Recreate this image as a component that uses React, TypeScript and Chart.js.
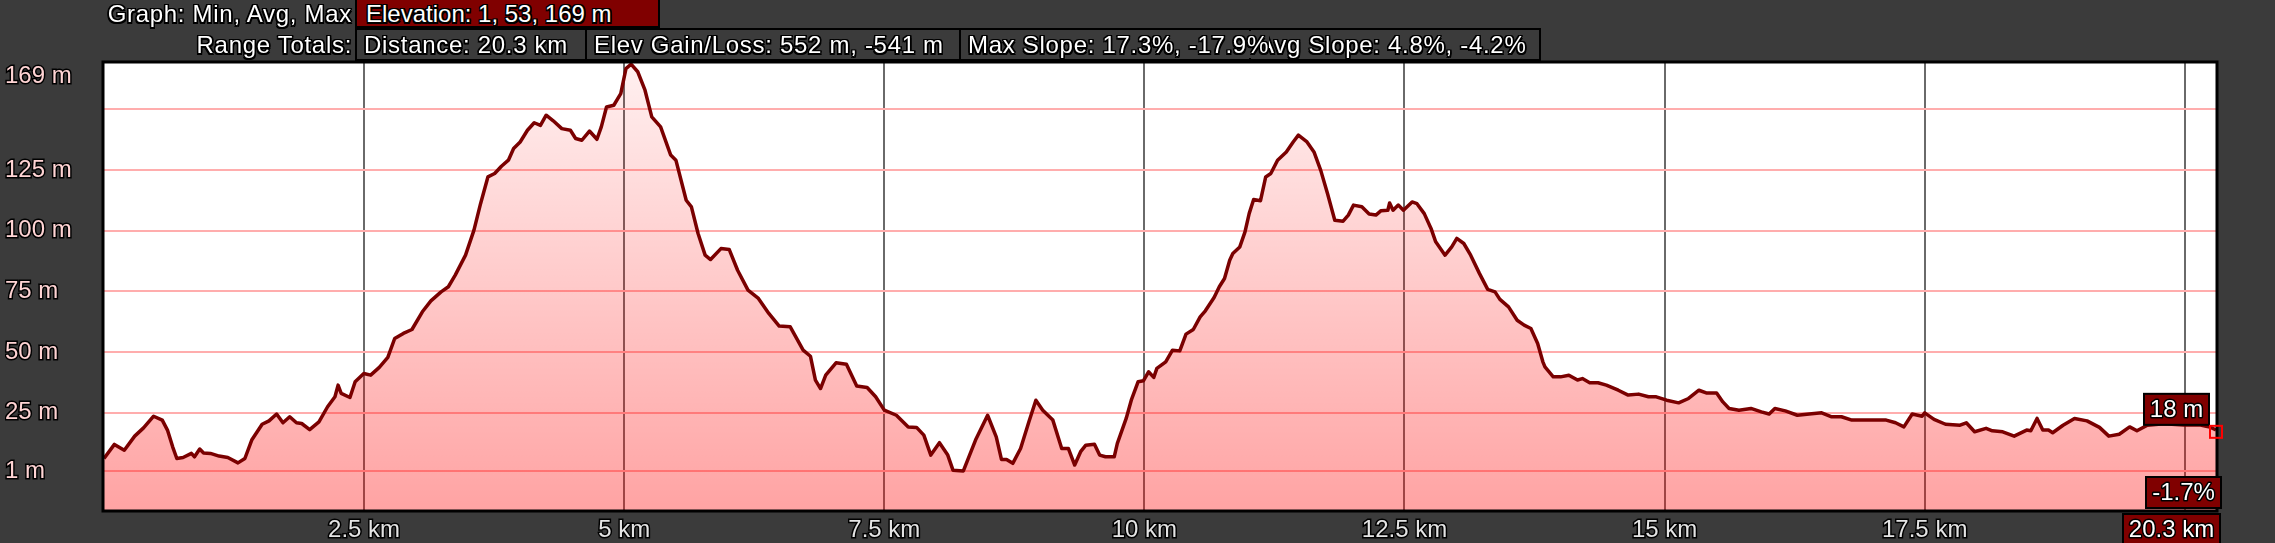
import React, { useEffect, useRef } from 'react';
import Chart from 'chart.js/auto';

// ---- data ----
const distanceKm = [
  0.0, 0.1, 0.195, 0.295, 0.38, 0.477, 0.56, 0.61, 0.66, 0.7, 0.76, 0.84, 0.87, 0.92, 0.957,
  1.023, 1.106, 1.19, 1.288, 1.354, 1.42, 1.52, 1.586, 1.659, 1.72, 1.785, 1.85, 1.9, 1.977,
  2.066, 2.149, 2.22, 2.25, 2.28, 2.364, 2.414, 2.497, 2.563, 2.646, 2.728, 2.794, 2.877, 2.96,
  3.06, 3.142, 3.24, 3.31, 3.376, 3.475, 3.556, 3.62, 3.69, 3.755, 3.82, 3.887, 3.937,
  4.0, 4.07, 4.135, 4.195, 4.25, 4.318, 4.4, 4.483, 4.533, 4.593, 4.666, 4.738, 4.78, 4.83, 4.9, 4.967,
  5.017, 5.066, 5.13, 5.2, 5.265, 5.35, 5.447, 5.497, 5.596, 5.646, 5.71, 5.778, 5.83, 5.93,
  6.01, 6.09, 6.19, 6.29, 6.39, 6.49, 6.596, 6.72, 6.79, 6.838, 6.887, 6.937,
  7.036, 7.136, 7.235, 7.335, 7.417, 7.5, 7.616, 7.73, 7.81, 7.88, 7.947,
  8.03, 8.11, 8.16, 8.26, 8.377, 8.493, 8.576, 8.626, 8.675, 8.735, 8.81, 8.89, 8.957,
  9.023, 9.12, 9.205, 9.27, 9.33, 9.387, 9.437, 9.52, 9.57, 9.626, 9.71, 9.74, 9.825, 9.874, 9.94, 9.99,
  10.04, 10.09, 10.12, 10.205, 10.27, 10.34, 10.4, 10.47, 10.536, 10.586, 10.67, 10.72, 10.77, 10.82, 10.85, 10.917, 10.967,
  11.007, 11.05, 11.116, 11.166, 11.215, 11.28, 11.364, 11.43, 11.48, 11.563, 11.63, 11.695, 11.76, 11.83, 11.91, 11.96,
  12.01, 12.09, 12.16, 12.225, 12.275, 12.34, 12.357, 12.39, 12.44, 12.49, 12.573, 12.62, 12.69, 12.755, 12.8, 12.89, 12.954,
  13.003, 13.07, 13.136, 13.22, 13.3, 13.37, 13.417, 13.5, 13.583, 13.65, 13.715, 13.78, 13.83, 13.85, 13.93,
  14.0, 14.08, 14.163, 14.21, 14.28, 14.36, 14.44, 14.555, 14.65, 14.75, 14.845, 14.92,
  15.02, 15.135, 15.23, 15.33, 15.4, 15.5, 15.56, 15.62, 15.715, 15.83, 15.93,
  16.005, 16.06, 16.16, 16.276, 16.39, 16.51, 16.6, 16.7, 16.8, 16.93,
  17.05, 17.13, 17.22, 17.3, 17.38, 17.475, 17.5, 17.59, 17.7, 17.84, 17.9, 17.98,
  18.09, 18.15, 18.25, 18.36, 18.48, 18.52, 18.58, 18.635, 18.69, 18.73, 18.83, 18.94,
  19.06, 19.18, 19.27, 19.37, 19.47, 19.54, 19.64, 19.8, 19.99, 20.15, 20.24, 20.3,
];

const elevationM = [
  6.2, 12.0, 9.6, 15.4, 18.8, 23.6, 22, 17.9, 11, 6.2, 6.6, 8.3, 6.9, 10.1, 8.5,
  8.3, 7.2, 6.6, 4.4, 6.2, 13.8, 20.3, 21.7, 24.5, 20.9, 23.4, 20.9, 20.6, 18.1,
  21.3, 27.5, 31.6, 36.4, 33, 31.3, 37.8, 41.2, 40.5, 43.7, 47.8, 55.6, 57.7, 59.3,
  66.6, 71.1, 74.8, 76.9, 81.7, 89.9, 100.2, 111.2, 122.1, 123.5, 126.5, 129, 133.8,
  136.5, 141.3, 144.4, 143.3, 147.5, 145.2, 142, 141.3, 137.9, 137.2, 141, 137.6, 142.7, 150.9, 151.6, 156.4,
  166.7, 168.5, 165.4, 157.8, 146.8, 142.7, 131.1, 129, 112.5, 109.8, 98.8, 89.9, 88.1, 92.6,
  92.2, 83.7, 75.5, 72.1, 65.9, 60.7, 60.4, 50.8, 48.3, 38.5, 35, 40.5,
  45.6, 45, 36, 35.4, 31.6, 26.1, 24, 19.2, 19, 15.8, 7.6,
  12.7, 7.6, 1.4, 1.1, 13.8, 24, 15.1, 5.8, 5.8, 4.2, 10.3, 21.3, 30.2,
  26.1, 22, 10.3, 10.3, 3.5, 9, 11.7, 12.1, 7.6, 6.9, 6.9, 12.4, 22.7, 30.2, 37.8, 38.2,
  41.9, 39.6, 43.3, 46, 50.8, 50.5, 57.4, 59.3, 64.5, 67, 72.5, 76.9, 80.3, 87.8, 90.6, 93.3, 99.5,
  107, 112.8, 112.3, 122.1, 123.5, 129, 132.4, 136.5, 139.3, 136.5, 132.4, 124.8, 115.3, 104.3, 103.9, 106.4,
  110.5, 109.8, 106.8, 106.4, 108.2, 108.4, 111.4, 108.4, 110.5, 108.4, 111.8, 111.1, 107, 100.9, 95.4, 89.9, 93.3,
  96.8, 94.7, 89.9, 82.4, 75.8, 74.8, 71.7, 68.6, 63.1, 61.1, 59.7, 53.5, 46, 43.9, 39.8,
  39.8, 40.5, 38.5, 39.1, 37.4, 37.4, 36.4, 34.3, 32.3, 32.7, 31.6, 31.6,
  30.2, 29.1, 30.9, 34.3, 33.2, 33.2, 29.5, 26.8, 26.1, 26.8, 25.4,
  24.5, 26.8, 25.8, 24, 24.5, 25, 23.4, 23.4, 22, 22,
  22, 22, 20.9, 19.2, 24.5, 23.6, 25, 22.3, 20.3, 19.9, 20.9, 17.2,
  18.6, 17.6, 17.2, 15.4, 17.9, 17.6, 22.7, 17.9, 17.9, 16.8, 19.9, 22.7,
  21.7, 19, 15.4, 16.2, 19.2, 17.6, 19.9, 20.5, 20, 20, 19.2, 18,
];

const xTickValues = [2.5, 5, 7.5, 10, 12.5, 15, 17.5, 20];
const xTickLabels = ['2.5 km', '5 km', '7.5 km', '10 km', '12.5 km', '15 km', '17.5 km', ''];
const yTickValues = [1, 25, 50, 75, 100, 125, 150, 163.5];
const yTickLabels = ['1 m', '25 m', '50 m', '75 m', '100 m', '125 m', '', '169 m'];

const endElevationLabel = '18 m';
const endSlopeLabel = '-1.7%';
const endDistanceLabel = '20.3 km';

const headerRow1Title = 'Graph: Min, Avg, Max';
const headerRow1Box = 'Elevation: 1, 53, 169 m';
const headerRow2Title = 'Range Totals:';
const headerRow2Boxes = [
  'Distance: 20.3 km',
  'Elev Gain/Loss: 552 m, -541 m',
  'Max Slope: 17.3%, -17.9%',
  'Avg Slope: 4.8%, -4.2%',
];

const FONT = "'Liberation Sans', Arial, sans-serif";
const BG = '#3b3b3b';
const DARK_RED = '#800000';

const outline =
  '-1.5px -1.5px 0 #000, 1.5px -1.5px 0 #000, -1.5px 1.5px 0 #000, 1.5px 1.5px 0 #000, 0 1.5px 0 #000, 0 -1.5px 0 #000, 1.5px 0 0 #000, -1.5px 0 0 #000';

function drawLabelBox(ctx: CanvasRenderingContext2D, text: string, right: number, top: number) {
  ctx.save();
  ctx.font = `24px ${FONT}`;
  const w = Math.round(ctx.measureText(text).width + 12);
  const h = 31;
  const left = right - w;
  ctx.fillStyle = DARK_RED;
  ctx.fillRect(left, top, w, h);
  ctx.strokeStyle = '#000';
  ctx.lineWidth = 2;
  ctx.strokeRect(left, top, w, h);
  ctx.textAlign = 'center';
  ctx.textBaseline = 'middle';
  ctx.lineWidth = 3;
  ctx.lineJoin = 'round';
  ctx.strokeText(text, left + w / 2, top + h / 2 + 1);
  ctx.fillStyle = '#fff';
  ctx.fillText(text, left + w / 2, top + h / 2 + 1);
  ctx.restore();
}

const framePlugin = {
  id: 'frame',
  beforeDraw(chart: any) {
    const { ctx, chartArea: a } = chart;
    ctx.save();
    ctx.fillStyle = '#ffffff';
    ctx.fillRect(a.left, a.top, a.right - a.left, a.bottom - a.top);
    ctx.restore();
  },
  afterDatasetsDraw(chart: any) {
    const { ctx, chartArea: a } = chart;
    ctx.save();
    ctx.strokeStyle = '#000';
    ctx.lineWidth = 3;
    ctx.strokeRect(a.left - 1, a.top - 1, a.right - a.left + 2, a.bottom - a.top + 2);
    ctx.restore();
  },
  afterDraw(chart: any) {
    const { ctx, chartArea: a } = chart;
    const xs = chart.scales.x;
    const ys = chart.scales.y;
    const last = distanceKm.length - 1;
    const px = xs.getPixelForValue(distanceKm[last]);
    const py = ys.getPixelForValue(elevationM[last]);
    drawLabelBox(ctx, endElevationLabel, px - 7, py - 36);
    drawLabelBox(ctx, endSlopeLabel, px + 5, a.bottom - 33);
    drawLabelBox(ctx, endDistanceLabel, px + 4, a.bottom + 4);
    ctx.save();
    ctx.strokeStyle = '#ff0000';
    ctx.lineWidth = 2;
    ctx.strokeRect(px - 6, py - 4, 12, 12);
    ctx.restore();
  },
};

export default function App() {
  const canvasRef = useRef<HTMLCanvasElement | null>(null);

  useEffect(() => {
    const canvas = canvasRef.current;
    if (!canvas) return;
    const chart = new Chart(canvas, {
      type: 'line',
      data: {
        datasets: [
          {
            data: distanceKm.map((x, i) => ({ x, y: elevationM[i] })),
            borderColor: '#7a0000',
            borderWidth: 3.5,
            borderJoinStyle: 'round',
            pointRadius: 0,
            tension: 0,
            fill: 'start',
            backgroundColor: (c: any) => {
              const area = c.chart.chartArea;
              if (!area) return 'rgba(255,0,0,0.2)';
              const g = c.chart.ctx.createLinearGradient(0, area.top, 0, area.bottom);
              g.addColorStop(0, 'rgba(255,0,0,0.06)');
              g.addColorStop(1, 'rgba(255,0,0,0.36)');
              return g;
            },
          },
        ],
      },
      options: {
        responsive: false,
        animation: false,
        devicePixelRatio: 1,
        layout: { padding: { left: 5, top: 63, right: 59, bottom: 0 } },
        plugins: { legend: { display: false }, tooltip: { enabled: false } },
        scales: {
          x: {
            type: 'linear',
            min: 0,
            max: 20.3,
            afterBuildTicks: (s: any) => {
              s.ticks = xTickValues.map((v) => ({ value: v }));
            },
            afterFit: (s: any) => {
              s.height = 33;
            },
            ticks: {
              callback: (_v: any, i: number) => xTickLabels[i],
              color: '#e4e4e4',
              font: { family: FONT, size: 24 },
              textStrokeColor: '#000',
              textStrokeWidth: 3,
              padding: 6,
              maxRotation: 0,
              autoSkip: false,
            },
            grid: { color: '#6a6a6a', lineWidth: 2, drawTicks: false },
            border: { display: false },
          },
          y: {
            type: 'linear',
            min: -15,
            max: 169,
            afterBuildTicks: (s: any) => {
              s.ticks = yTickValues.map((v) => ({ value: v }));
            },
            afterFit: (s: any) => {
              s.width = 99;
            },
            ticks: {
              callback: (_v: any, i: number) => yTickLabels[i],
              color: '#ffd4d4',
              font: { family: FONT, size: 24 },
              textStrokeColor: '#000',
              textStrokeWidth: 3,
              crossAlign: 'far',
              autoSkip: false,
            },
            grid: {
              color: (c: any) => (c.tick && c.tick.value === 163.5 ? 'rgba(0,0,0,0)' : '#ffadad'),
              lineWidth: 2,
              drawTicks: false,
            },
            border: { display: false },
          },
        },
      },
      plugins: [framePlugin],
    } as any);
    return () => chart.destroy();
  }, []);

  const textBase: React.CSSProperties = {
    position: 'absolute',
    fontFamily: FONT,
    fontSize: 24,
    color: '#fff',
    letterSpacing: '0.7px',
    textShadow: outline,
    whiteSpace: 'nowrap',
  };
  const boxLefts = [355, 585, 959, 1249];
  const boxRights = [587, 961, 1251, 1541];

  return (
    <div style={{ position: 'fixed', left: 0, top: 0, width: 2275, height: 543, background: BG, overflow: 'hidden' }}>
      <canvas ref={canvasRef} width={2275} height={543} style={{ position: 'absolute', left: 0, top: 0 }} />
      <div style={{ ...textBase, right: 2275 - 352, top: 0, height: 27, lineHeight: '27px' }}>{headerRow1Title}</div>
      <div
        style={{
          ...textBase,
          letterSpacing: '0px',
          left: 355,
          top: -2,
          width: 305,
          height: 30,
          boxSizing: 'border-box',
          background: DARK_RED,
          border: '2px solid #000',
          paddingLeft: 9,
          lineHeight: '28px',
        }}
      >
        {headerRow1Box}
      </div>
      <div style={{ ...textBase, right: 2275 - 352, top: 29, height: 31, lineHeight: '31px' }}>{headerRow2Title}</div>
      {headerRow2Boxes.map((t, i) => (
        <div
          key={i}
          style={{
            position: 'absolute',
            left: boxLefts[i],
            top: 28,
            width: boxRights[i] - boxLefts[i],
            height: 33,
            boxSizing: 'border-box',
            background: BG,
            border: '2px solid #000',
            zIndex: i === 2 ? 1 : 0,
          }}
        />
      ))}
      {headerRow2Boxes.map((t, i) => {
        const isMax = i === 2;
        const body = isMax ? t.slice(0, -1) : t;
        return (
          <div
            key={'t' + i}
            style={{ ...textBase, left: boxLefts[i] + 9, top: 28, height: 33, lineHeight: '33px', zIndex: isMax ? 3 : 2 }}
          >
            {body}
            {isMax ? <span style={{ background: BG }}>%</span> : null}
          </div>
        );
      })}
    </div>
  );
}
